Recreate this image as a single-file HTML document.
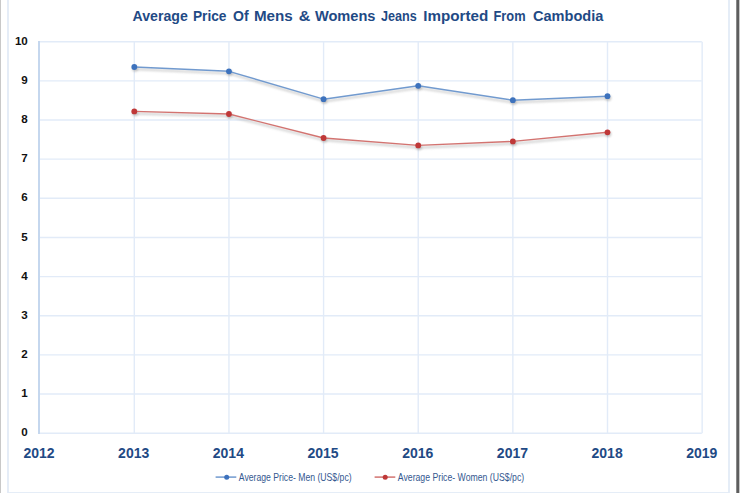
<!DOCTYPE html>
<html><head><meta charset="utf-8"><style>
html,body{margin:0;padding:0;background:#fff;}
body{width:740px;height:493px;overflow:hidden;position:relative;}
svg{position:absolute;left:0;top:0;}
text{font-family:"Liberation Sans",sans-serif;}
</style></head><body>
<svg width="740" height="493" viewBox="0 0 740 493">
<defs>
<filter id="sh" x="-5%" y="-50%" width="110%" height="200%"><feGaussianBlur stdDeviation="1"/></filter>
</defs>
<rect x="0" y="0" width="1" height="493" fill="#c8c8c8"/>
<rect x="736" y="0" width="1" height="493" fill="#8a8a8a"/>
<rect x="737" y="0" width="2" height="493" fill="#5e5e5e"/>
<rect x="739" y="0" width="1" height="493" fill="#c6c6c6"/>
<rect x="8" y="-5" width="721" height="498" fill="none" stroke="#e3ebf7" stroke-width="1.8"/>
<g stroke="#e2ebf8" stroke-width="1.4"><line x1="39.0" y1="41.70" x2="701.8" y2="41.70"/><line x1="39.0" y1="80.85" x2="701.8" y2="80.85"/><line x1="39.0" y1="120.00" x2="701.8" y2="120.00"/><line x1="39.0" y1="159.15" x2="701.8" y2="159.15"/><line x1="39.0" y1="198.30" x2="701.8" y2="198.30"/><line x1="39.0" y1="237.45" x2="701.8" y2="237.45"/><line x1="39.0" y1="276.60" x2="701.8" y2="276.60"/><line x1="39.0" y1="315.75" x2="701.8" y2="315.75"/><line x1="39.0" y1="354.90" x2="701.8" y2="354.90"/><line x1="39.0" y1="394.05" x2="701.8" y2="394.05"/><line x1="39.0" y1="433.20" x2="701.8" y2="433.20"/><line x1="134.30" y1="41.7" x2="134.30" y2="433.2"/><line x1="228.94" y1="41.7" x2="228.94" y2="433.2"/><line x1="323.58" y1="41.7" x2="323.58" y2="433.2"/><line x1="418.22" y1="41.7" x2="418.22" y2="433.2"/><line x1="512.86" y1="41.7" x2="512.86" y2="433.2"/><line x1="607.50" y1="41.7" x2="607.50" y2="433.2"/><line x1="702.14" y1="41.7" x2="702.14" y2="433.2"/></g>
<line x1="39.0" y1="41.0" x2="39.0" y2="433.9" stroke="#c5d7ee" stroke-width="2"/>
<g font-size="15.2" font-weight="bold" fill="#1f4a85"><text x="132.6" y="21.2" textLength="55.2" lengthAdjust="spacingAndGlyphs">Average</text><text x="192.9" y="21.2" textLength="33.6" lengthAdjust="spacingAndGlyphs">Price</text><text x="233.1" y="21.2" textLength="15.63" lengthAdjust="spacingAndGlyphs">Of</text><text x="253.9" y="21.2" textLength="38.82" lengthAdjust="spacingAndGlyphs">Mens</text><text x="298.7" y="21.2" textLength="11.61" lengthAdjust="spacingAndGlyphs">&amp;</text><text x="314.9" y="21.2" textLength="60.6" lengthAdjust="spacingAndGlyphs">Womens</text><text x="380.9" y="21.2" textLength="35.8" lengthAdjust="spacingAndGlyphs">Jeans</text><text x="423.2" y="21.2" textLength="65.03" lengthAdjust="spacingAndGlyphs">Imported</text><text x="493.5" y="21.2" textLength="32.03" lengthAdjust="spacingAndGlyphs">From</text><text x="533.0" y="21.2" textLength="70.4" lengthAdjust="spacingAndGlyphs">Cambodia</text></g>
<g font-size="11.6" font-weight="bold" fill="#111" text-anchor="end"><text x="27.8" y="44.80">10</text><text x="27.8" y="83.95">9</text><text x="27.8" y="123.10">8</text><text x="27.8" y="162.25">7</text><text x="27.8" y="201.40">6</text><text x="27.8" y="240.55">5</text><text x="27.8" y="279.70">4</text><text x="27.8" y="318.85">3</text><text x="27.8" y="358.00">2</text><text x="27.8" y="397.15">1</text><text x="27.8" y="436.30">0</text></g>
<g font-size="14" font-weight="bold" fill="#1f4a85" text-anchor="middle"><text x="39.00" y="457.6">2012</text><text x="133.69" y="457.6">2013</text><text x="228.37" y="457.6">2014</text><text x="323.06" y="457.6">2015</text><text x="417.74" y="457.6">2016</text><text x="512.43" y="457.6">2017</text><text x="607.11" y="457.6">2018</text><text x="701.80" y="457.6">2019</text></g>
<g filter="url(#sh)" fill="none" stroke="#b8b8b8" stroke-width="2.2" opacity="0.6">
<polyline points="135.10,69.20 229.74,73.50 324.38,101.40 419.02,88.00 513.66,102.40 608.30,98.40"/>
<polyline points="135.10,113.60 229.74,116.20 324.38,140.20 419.02,147.60 513.66,143.60 608.30,134.50"/>
</g>
<g filter="url(#sh)" fill="#999" opacity="0.5"><circle cx="135.10" cy="68.80" r="3"/><circle cx="229.74" cy="73.10" r="3"/><circle cx="324.38" cy="101.00" r="3"/><circle cx="419.02" cy="87.60" r="3"/><circle cx="513.66" cy="102.00" r="3"/><circle cx="608.30" cy="98.00" r="3"/><circle cx="135.10" cy="113.20" r="3"/><circle cx="229.74" cy="115.80" r="3"/><circle cx="324.38" cy="139.80" r="3"/><circle cx="419.02" cy="147.20" r="3"/><circle cx="513.66" cy="143.20" r="3"/><circle cx="608.30" cy="134.10" r="3"/></g>
<polyline points="134.30,67.00 228.94,71.30 323.58,99.20 418.22,85.80 512.86,100.20 607.50,96.20" fill="none" stroke="#719acf" stroke-width="1.4" stroke-linejoin="round"/>
<polyline points="134.30,111.40 228.94,114.00 323.58,138.00 418.22,145.40 512.86,141.40 607.50,132.30" fill="none" stroke="#d37370" stroke-width="1.4" stroke-linejoin="round"/>
<circle cx="134.30" cy="67.00" r="2.9" fill="#3d72bd"/><circle cx="228.94" cy="71.30" r="2.9" fill="#3d72bd"/><circle cx="323.58" cy="99.20" r="2.9" fill="#3d72bd"/><circle cx="418.22" cy="85.80" r="2.9" fill="#3d72bd"/><circle cx="512.86" cy="100.20" r="2.9" fill="#3d72bd"/><circle cx="607.50" cy="96.20" r="2.9" fill="#3d72bd"/>
<circle cx="134.30" cy="111.40" r="2.9" fill="#bf3838"/><circle cx="228.94" cy="114.00" r="2.9" fill="#bf3838"/><circle cx="323.58" cy="138.00" r="2.9" fill="#bf3838"/><circle cx="418.22" cy="145.40" r="2.9" fill="#bf3838"/><circle cx="512.86" cy="141.40" r="2.9" fill="#bf3838"/><circle cx="607.50" cy="132.30" r="2.9" fill="#bf3838"/>
<line x1="215.6" y1="477.1" x2="236.3" y2="477.1" stroke="#719acf" stroke-width="1.5"/>
<circle cx="226.7" cy="477.3" r="2.5" fill="#3d72bd"/>
<text x="238.8" y="480.9" font-size="10.4" fill="#345890" textLength="112.8" lengthAdjust="spacingAndGlyphs">Average Price- Men (US$/pc)</text>
<line x1="374.6" y1="477.1" x2="395.3" y2="477.1" stroke="#d37370" stroke-width="1.5"/>
<circle cx="385.2" cy="477.3" r="2.5" fill="#bf3838"/>
<text x="397.8" y="480.9" font-size="10.4" fill="#345890" textLength="126.4" lengthAdjust="spacingAndGlyphs">Average Price- Women (US$/pc)</text>
</svg>
</body></html>
